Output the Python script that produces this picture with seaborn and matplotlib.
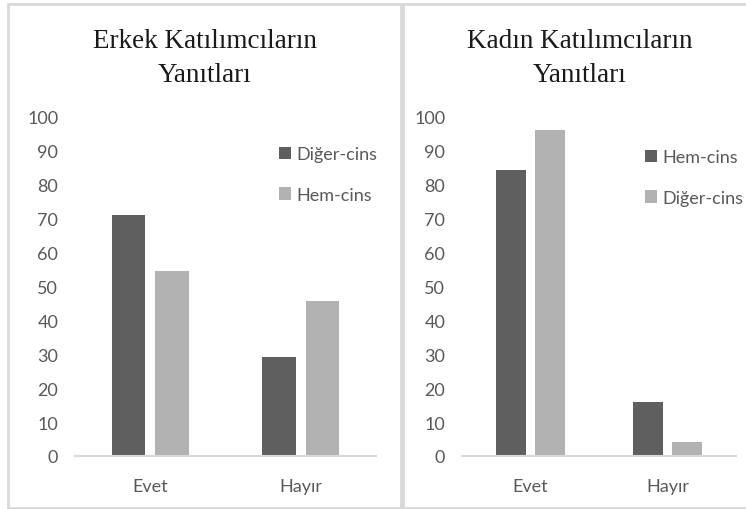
import matplotlib
matplotlib.use("Agg")
import matplotlib.pyplot as plt
from matplotlib.patches import Rectangle
import seaborn as sns
import pandas as pd

# ---- data ----
categories = ["Evet", "Hayır"]
erkek_diger = [71, 29]
erkek_hem = [54.5, 45.5]
kadin_hem = [84, 16]
kadin_diger = [96, 4]
title_left = ["Erkek Katılımcıların", "Yanıtları"]
title_right = ["Kadın Katılımcıların", "Yanıtları"]
yticks = [0, 10, 20, 30, 40, 50, 60, 70, 80, 90, 100]

sns.set_theme(style="white")
plt.rcParams["font.family"] = ["Lato", "DejaVu Sans"]

DARK = "#5f5f5f"
LIGHT = "#b2b2b2"
TXT = "#595959"
GRID = "#d9d9d9"

W, H = 746, 510
fig = plt.figure(figsize=(W / 100, H / 100), dpi=100)
fig.patch.set_facecolor("white")


def fx(x):
    return x / W


def fy(y):
    return 1 - y / H


# panel borders
for (x0, x1) in [(8, 401), (403, 750)]:
    fig.patches.append(Rectangle((fx(x0), fy(509)), fx(x1 - x0), (509 - 5) / H,
                                 transform=fig.transFigure, fill=False,
                                 edgecolor=GRID, lw=2, zorder=0))

df_left = pd.DataFrame({
    "Yanıt": categories * 2,
    "Grup": ["Diğer-cins"] * 2 + ["Hem-cins"] * 2,
    "Değer": erkek_diger + erkek_hem,
})
df_right = pd.DataFrame({
    "Yanıt": categories * 2,
    "Grup": ["Hem-cins"] * 2 + ["Diğer-cins"] * 2,
    "Değer": kadin_hem + kadin_diger,
})

FS = 13


def draw(ax, df, order, leg_xy, title, tx):
    sns.barplot(data=df, x="Yanıt", y="Değer", hue="Grup", hue_order=order,
                order=categories, palette=[DARK, LIGHT], width=0.58, gap=0.24,
                ax=ax, saturation=1, edgecolor="none")
    ax.set_ylim(0, 100)
    ax.set_xlim(-0.5, 1.5)
    ax.set_yticks(yticks)
    ax.set_xlabel("")
    ax.set_ylabel("")
    for s in ["top", "right", "left"]:
        ax.spines[s].set_visible(False)
    ax.spines["bottom"].set_color(GRID)
    ax.spines["bottom"].set_linewidth(1.5)
    ax.tick_params(axis="both", length=0, labelsize=FS, labelcolor=TXT)
    ax.tick_params(axis="y", pad=12)
    ax.tick_params(axis="x", pad=15.5)
    ax.set_facecolor("none")
    handles, labels = ax.get_legend_handles_labels()
    ax.legend(handles, labels, loc="upper left",
              bbox_to_anchor=(fx(leg_xy[0]), fy(leg_xy[1])),
              bbox_transform=fig.transFigure, frameon=False,
              fontsize=FS, labelcolor=TXT, handlelength=0.67,
              handleheight=0.67, handletextpad=0.3, labelspacing=1.38,
              borderpad=0, borderaxespad=0)
    fig.text(fx(tx), fy(48), title[0], ha="center", va="baseline",
             fontsize=19.5, family="Liberation Serif", color="#1a1a1a")
    fig.text(fx(tx), fy(82), title[1], ha="center", va="baseline",
             fontsize=19.5, family="Liberation Serif", color="#1a1a1a")


ax1 = fig.add_axes([fx(75), fy(457), fx(376 - 75), (457 - 117) / H])
ax2 = fig.add_axes([fx(462), fy(457), fx(736 - 462), (457 - 117) / H])

draw(ax1, df_left, ["Diğer-cins", "Hem-cins"], (279, 147), title_left, 205)
draw(ax2, df_right, ["Hem-cins", "Diğer-cins"], (645, 150), title_right, 580)

fig.savefig("out.png", dpi=100, facecolor="white")
